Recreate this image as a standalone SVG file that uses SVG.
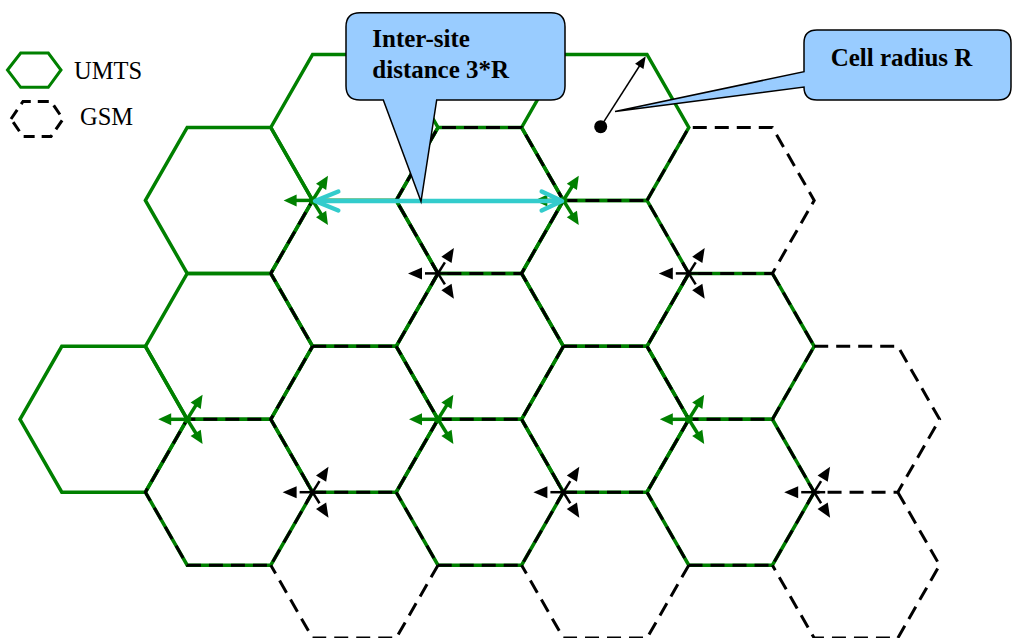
<svg xmlns="http://www.w3.org/2000/svg" width="1013" height="638" viewBox="0 0 1013 638">
<style>
.umts{fill:none;stroke:#008000;stroke-width:3.5;stroke-linejoin:miter}
.gsm{fill:none;stroke:#000;stroke-width:3;stroke-dasharray:14 8}
.garr{stroke:#008000;stroke-width:3.5;fill:none;marker-end:url(#ahg)}
.karr{stroke:#000;stroke-width:2.5;fill:none;marker-end:url(#ahk)}
.cyan{stroke:#33CCCC;stroke-width:4.5;fill:none;stroke-linecap:round;stroke-linejoin:round}
.callout{fill:#99CCFF;stroke:#000;stroke-width:1.5}
.ctext{font-family:"Liberation Serif","Times New Roman",serif;font-weight:bold;font-size:25px;fill:#000}
.ltext{font-family:"Liberation Serif","Times New Roman",serif;font-size:24.5px;fill:#000}
</style>
<defs>
<marker id="ahg" markerUnits="userSpaceOnUse" markerWidth="13" markerHeight="12" viewBox="0 0 13 12" refX="1" refY="6" orient="auto" overflow="visible"><path d="M0,0 L13,6 L0,12 z" fill="#008000"/></marker>
<marker id="ahk" markerUnits="userSpaceOnUse" markerWidth="14" markerHeight="12" viewBox="0 0 14 12" refX="-3" refY="6" orient="auto" overflow="visible"><path d="M0,0 L14,6 L0,12 z" fill="#000"/></marker>
<marker id="ahr" markerUnits="userSpaceOnUse" markerWidth="12" markerHeight="10" viewBox="0 0 12 10" refX="1" refY="5" orient="auto" overflow="visible"><path d="M0,0 L12,5 L0,10 z" fill="#000"/></marker>
</defs>
<rect width="1013" height="638" fill="#fff"/>

<g id="legend">
<g id="legend-umts">
<polygon class="umts" points="7.5,70 20.7,53 48.3,53 61,70 48.3,87.3 20.7,87.3" style="stroke-width:3"/>
<text class="ltext" x="74" y="79.3">UMTS</text>
</g>
<g id="legend-gsm">
<polygon class="gsm" points="11,119 23,101.5 51,101.5 63,119 51,136.5 23,136.5" style="stroke-dasharray:11 7"/>
<text class="ltext" x="80" y="125">GSM</text>
</g>
</g>

<g id="umts-cells">
<polygon id="u-c1r2" class="umts" points="145.4,200.4 187.2,127.5 270.8,127.5 312.6,200.4 270.8,273.4 187.2,273.4"/>
<polygon id="u-c2r1" class="umts" points="270.8,127.5 312.6,54.5 396.2,54.5 438,127.5 396.2,200.4 312.6,200.4"/>
<polygon id="u-c2r3" class="umts" points="270.8,273.4 312.6,200.4 396.2,200.4 438,273.4 396.2,346.3 312.6,346.3"/>
<polygon id="u-c3r2" class="umts" points="396.2,200.4 438,127.5 521.6,127.5 563.4,200.4 521.6,273.4 438,273.4"/>
<polygon id="u-c4r1" class="umts" points="521.6,127.5 563.4,54.5 647,54.5 688.8,127.5 647,200.4 563.4,200.4"/>
<polygon id="u-c4r3" class="umts" points="521.6,273.4 563.4,200.4 647,200.4 688.8,273.4 647,346.3 563.4,346.3"/>
<polygon id="u-c0r5" class="umts" points="20,419.3 61.8,346.3 145.4,346.3 187.2,419.3 145.4,492.2 61.8,492.2"/>
<polygon id="u-c1r4" class="umts" points="145.4,346.3 187.2,273.4 270.8,273.4 312.6,346.3 270.8,419.3 187.2,419.3"/>
<polygon id="u-c1r6" class="umts" points="145.4,492.2 187.2,419.3 270.8,419.3 312.6,492.2 270.8,565.2 187.2,565.2"/>
<polygon id="u-c2r5" class="umts" points="270.8,419.3 312.6,346.3 396.2,346.3 438,419.3 396.2,492.2 312.6,492.2"/>
<polygon id="u-c3r4" class="umts" points="396.2,346.3 438,273.4 521.6,273.4 563.4,346.3 521.6,419.3 438,419.3"/>
<polygon id="u-c3r6" class="umts" points="396.2,492.2 438,419.3 521.6,419.3 563.4,492.2 521.6,565.2 438,565.2"/>
<polygon id="u-c4r5" class="umts" points="521.6,419.3 563.4,346.3 647,346.3 688.8,419.3 647,492.2 563.4,492.2"/>
<polygon id="u-c5r4" class="umts" points="647,346.3 688.8,273.4 772.4,273.4 814.2,346.3 772.4,419.3 688.8,419.3"/>
<polygon id="u-c5r6" class="umts" points="647,492.2 688.8,419.3 772.4,419.3 814.2,492.2 772.4,565.2 688.8,565.2"/>
</g>

<g id="gsm-cells">
<path id="g-c3r2" class="gsm" d="M396.2,200.4 L438,127.5 L521.6,127.5 L563.4,200.4 L521.6,273.4 L438,273.4 Z"/>
<path id="g-c5r2" class="gsm" d="M647,200.4 L688.8,127.5 L772.4,127.5 L814.2,200.4 L772.4,273.4 L688.8,273.4 Z"/>
<path id="g-c2r3" class="gsm" d="M438,273.4 L396.2,346.3 L312.6,346.3 L270.8,273.4 L312.6,200.4 L396.2,200.4"/>
<path id="g-c4r3" class="gsm" d="M563.4,200.4 L647,200.4 M688.8,273.4 L647,346.3 L563.4,346.3 L521.6,273.4"/>
<path id="g-c3r4" class="gsm" d="M563.4,346.3 L521.6,419.3 L438,419.3 L396.2,346.3"/>
<path id="g-c5r4" class="gsm" d="M772.4,273.4 L814.2,346.3 L772.4,419.3 L688.8,419.3 L647,346.3"/>
<path id="g-c2r5" class="gsm" d="M438,419.3 L396.2,492.2 L312.6,492.2 L270.8,419.3 L312.6,346.3"/>
<path id="g-c4r5" class="gsm" d="M688.8,419.3 L647,492.2 L563.4,492.2 L521.6,419.3"/>
<path id="g-c6r5" class="gsm" d="M814.2,346.3 L897.8,346.3 L939.6,419.3 L897.8,492.2 L814.2,492.2 L772.4,419.3"/>
<path id="g-c1r6" class="gsm" d="M312.6,492.2 L270.8,565.2 L187.2,565.2 L145.4,492.2 L187.2,419.3 L270.8,419.3"/>
<path id="g-c3r6" class="gsm" d="M563.4,492.2 L521.6,565.2 L438,565.2 L396.2,492.2"/>
<path id="g-c5r6" class="gsm" d="M814.2,492.2 L772.4,565.2 L688.8,565.2 L647,492.2"/>
<path id="g-c2r7" class="gsm" d="M438,565.2 L396.2,638.1 L312.6,638.1 L270.8,565.2"/>
<path id="g-c4r7" class="gsm" d="M688.8,565.2 L647,638.1 L563.4,638.1 L521.6,565.2"/>
<path id="g-c6r7" class="gsm" d="M897.8,492.2 L939.6,565.2 L897.8,638.1 L814.2,638.1 L772.4,565.2"/>
</g>

<g id="umts-sites">
<g id="us1"><line class="garr" x1="316.6" y1="200.4" x2="295.6" y2="200.4"/><line class="garr" x1="310.48" y1="203.79" x2="321.61" y2="185.98"/><line class="garr" x1="310.48" y1="197.01" x2="321.61" y2="214.82"/></g>
<g id="us2"><line class="garr" x1="567.4" y1="200.4" x2="546.4" y2="200.4"/><line class="garr" x1="561.28" y1="203.79" x2="572.41" y2="185.98"/><line class="garr" x1="561.28" y1="197.01" x2="572.41" y2="214.82"/></g>
<g id="us3"><line class="garr" x1="191.2" y1="419.3" x2="170.2" y2="419.3"/><line class="garr" x1="185.08" y1="422.69" x2="196.21" y2="404.88"/><line class="garr" x1="185.08" y1="415.91" x2="196.21" y2="433.72"/></g>
<g id="us4"><line class="garr" x1="442" y1="419.3" x2="421" y2="419.3"/><line class="garr" x1="435.88" y1="422.69" x2="447.01" y2="404.88"/><line class="garr" x1="435.88" y1="415.91" x2="447.01" y2="433.72"/></g>
<g id="us5"><line class="garr" x1="692.8" y1="419.3" x2="671.8" y2="419.3"/><line class="garr" x1="686.68" y1="422.69" x2="697.81" y2="404.88"/><line class="garr" x1="686.68" y1="415.91" x2="697.81" y2="433.72"/></g>
</g>

<g id="gsm-sites">
<g id="gs1"><line class="karr" x1="449" y1="273.4" x2="425" y2="273.4"/><line class="karr" x1="432.17" y1="282.73" x2="444.89" y2="262.38"/><line class="karr" x1="432.17" y1="264.07" x2="444.89" y2="284.42"/></g>
<g id="gs2"><line class="karr" x1="699.8" y1="273.4" x2="675.8" y2="273.4"/><line class="karr" x1="682.97" y1="282.73" x2="695.69" y2="262.38"/><line class="karr" x1="682.97" y1="264.07" x2="695.69" y2="284.42"/></g>
<g id="gs3"><line class="karr" x1="323.6" y1="492.2" x2="299.6" y2="492.2"/><line class="karr" x1="306.77" y1="501.53" x2="319.49" y2="481.18"/><line class="karr" x1="306.77" y1="482.87" x2="319.49" y2="503.22"/></g>
<g id="gs4"><line class="karr" x1="574.4" y1="492.2" x2="550.4" y2="492.2"/><line class="karr" x1="557.57" y1="501.53" x2="570.29" y2="481.18"/><line class="karr" x1="557.57" y1="482.87" x2="570.29" y2="503.22"/></g>
<g id="gs5"><line class="karr" x1="825.2" y1="492.2" x2="801.2" y2="492.2"/><line class="karr" x1="808.37" y1="501.53" x2="821.09" y2="481.18"/><line class="karr" x1="808.37" y1="482.87" x2="821.09" y2="503.22"/></g>
</g>

<g id="connectors">
<g id="inter-site-arrow">
<line class="cyan" x1="316" y1="201" x2="560" y2="201"/>
<polyline class="cyan" points="338.3,191.5 315,201 338.3,210.5"/>
<polyline class="cyan" points="541.7,191.5 562,201 541.7,210.5"/>
</g>
<g id="radius-arrow">
<circle cx="600.7" cy="126.7" r="6.5" fill="#000"/>
<line x1="600.7" y1="126.7" x2="639.8" y2="65.5" stroke="#000" stroke-width="1.5" marker-end="url(#ahr)"/>
</g>
</g>

<g id="callout-intersite">
<path class="callout" d="M360,12.7 H551 Q565,12.7 565,26.7 V86 Q565,100 551,100 H436.7 L421,201.5 L383.3,100 H360 Q346,100 346,86 V26.7 Q346,12.7 360,12.7 Z"/>
<text class="ctext" x="372.3" y="47">Inter-site</text>
<text class="ctext" x="372.3" y="77.5">distance 3*R</text>
</g>

<g id="callout-radius">
<path class="callout" d="M817,30 H998 Q1011,30 1011,43 V87 Q1011,100 998,100 H817 Q804,100 804,87 V87 L615,111.5 L804,71.7 V43 Q804,30 817,30 Z"/>
<text class="ctext" x="830.7" y="65.7">Cell radius R</text>
</g>
</svg>
